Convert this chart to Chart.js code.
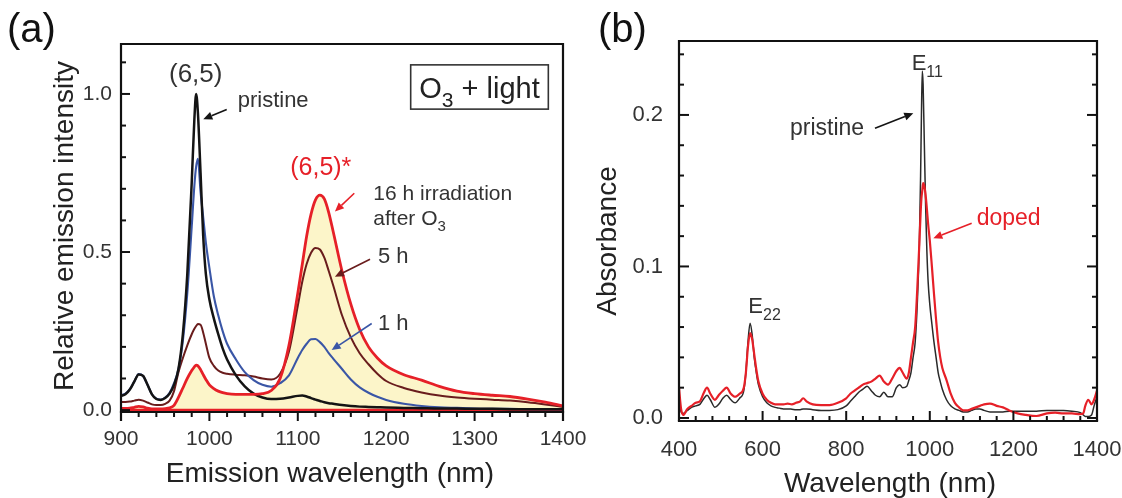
<!DOCTYPE html>
<html><head><meta charset="utf-8">
<script src="https://cdn.jsdelivr.net/npm/chart.js@4.4.1/dist/chart.umd.min.js"></script>
<style>
html,body{margin:0;padding:0;background:#fff;width:1122px;height:498px;overflow:hidden}
canvas{position:absolute;top:0;display:block}
#ca{left:0}
#cb{left:575px}
</style></head><body>
<canvas id="ca" width="600" height="498" style="width:600px;height:498px"></canvas>
<canvas id="cb" width="547" height="498" style="width:547px;height:498px"></canvas>
<script>
// ---------------- Panel (a): emission spectra ----------------
const wavelengthA = [900,905,910,915,920,925,930,935,940,945,950,955,960,965,970,975,980,983,985,987,990,993,996,1000,1005,1010,1015,1020,1030,1040,1050,1060,1070,1080,1090,1100,1105,1110,1115,1120,1125,1130,1135,1140,1150,1160,1170,1180,1190,1200,1220,1240,1260,1280,1300,1320,1340,1360,1380,1400];
const pristineA = [0.045,0.05,0.065,0.09,0.113,0.108,0.08,0.05,0.035,0.032,0.038,0.052,0.08,0.13,0.24,0.43,0.72,0.92,1.0,0.94,0.75,0.55,0.43,0.35,0.29,0.24,0.195,0.16,0.11,0.075,0.052,0.04,0.035,0.036,0.04,0.045,0.046,0.043,0.038,0.033,0.029,0.025,0.022,0.02,0.016,0.013,0.011,0.01,0.009,0.008,0.007,0.006,0.005,0.005,0.004,0.004,0.003,0.003,0.003,0.003];
const oneHourA = [0.047,0.052,0.066,0.09,0.114,0.108,0.08,0.05,0.036,0.033,0.04,0.055,0.085,0.13,0.22,0.37,0.58,0.71,0.77,0.795,0.69,0.61,0.53,0.45,0.36,0.3,0.25,0.21,0.16,0.12,0.095,0.08,0.074,0.085,0.11,0.165,0.19,0.21,0.224,0.225,0.215,0.2,0.18,0.163,0.13,0.097,0.072,0.055,0.042,0.032,0.02,0.013,0.009,0.007,0.005,0.004,0.004,0.003,0.003,0.003];
const fiveHourA = [0.026,0.026,0.027,0.03,0.033,0.03,0.024,0.018,0.016,0.016,0.02,0.03,0.06,0.12,0.165,0.205,0.24,0.257,0.266,0.272,0.27,0.245,0.21,0.165,0.14,0.125,0.118,0.115,0.112,0.11,0.106,0.1,0.097,0.115,0.185,0.33,0.405,0.462,0.498,0.513,0.508,0.482,0.44,0.395,0.3,0.23,0.18,0.145,0.115,0.092,0.07,0.056,0.046,0.04,0.036,0.033,0.03,0.025,0.018,0.01];
const sixteenHourA = [0.005,0.005,0.006,0.009,0.012,0.01,0.006,0.004,0.004,0.004,0.005,0.007,0.015,0.04,0.07,0.1,0.125,0.137,0.142,0.14,0.128,0.112,0.097,0.08,0.068,0.06,0.055,0.052,0.05,0.05,0.05,0.052,0.062,0.1,0.205,0.37,0.46,0.55,0.62,0.665,0.68,0.668,0.625,0.565,0.44,0.335,0.255,0.2,0.165,0.14,0.112,0.095,0.075,0.06,0.052,0.047,0.043,0.035,0.025,0.013];
const baselineXA = [900, 1400];
const baselineYA = [0, 0];
const xTicksA = [900, 1000, 1100, 1200, 1300, 1400];
const yTicksA = [0.0, 0.5, 1.0];

// ---------------- Panel (b): absorbance spectra ----------------
const wavelengthB = [400,405,410,420,430,440,450,460,467,475,486,495,505,514,524,534,545,555,560,565,570,575,580,585,590,600,610,620,630,640,650,660,670,680,690,697,705,720,740,760,780,800,810,820,830,840,850,860,870,880,890,900,910,920,928,935,945,950,955,960,965,970,975,978,980,982,984,987,990,993,996,1000,1005,1010,1015,1020,1025,1030,1040,1050,1060,1070,1080,1090,1100,1110,1120,1130,1144,1160,1175,1190,1210,1230,1255,1280,1300,1320,1340,1360,1367,1372,1379,1387,1393,1400];
const pristineB = [0.012,0.004,0.003,0.005,0.007,0.008,0.009,0.013,0.015,0.012,0.007,0.009,0.013,0.015,0.012,0.01,0.013,0.018,0.03,0.05,0.0625,0.055,0.04,0.03,0.022,0.014,0.01,0.008,0.007,0.0065,0.006,0.006,0.0058,0.0055,0.0055,0.006,0.006,0.0055,0.005,0.005,0.0055,0.008,0.011,0.014,0.017,0.019,0.021,0.018,0.015,0.014,0.017,0.014,0.014,0.02,0.022,0.02,0.021,0.025,0.03,0.04,0.05,0.075,0.115,0.16,0.2,0.229,0.22,0.18,0.14,0.11,0.09,0.075,0.062,0.05,0.04,0.03,0.024,0.019,0.012,0.008,0.006,0.005,0.004,0.004,0.005,0.006,0.006,0.005,0.004,0.004,0.004,0.0045,0.0045,0.0045,0.0045,0.005,0.005,0.005,0.0045,0.0035,0.002,0.001,0.001,0.002,0.008,0.014];
const dopedB = [0.02,0.006,0.002,0.006,0.008,0.01,0.011,0.017,0.02,0.016,0.012,0.015,0.018,0.02,0.016,0.014,0.016,0.02,0.03,0.047,0.056,0.052,0.042,0.032,0.024,0.016,0.012,0.01,0.009,0.009,0.009,0.0095,0.009,0.01,0.011,0.013,0.011,0.009,0.0085,0.0085,0.01,0.013,0.016,0.018,0.02,0.022,0.023,0.024,0.026,0.028,0.024,0.022,0.026,0.031,0.033,0.03,0.026,0.03,0.04,0.05,0.06,0.085,0.115,0.135,0.145,0.15,0.155,0.153,0.147,0.138,0.128,0.117,0.1,0.082,0.065,0.05,0.04,0.033,0.025,0.016,0.01,0.007,0.005,0.005,0.006,0.007,0.008,0.009,0.0095,0.008,0.007,0.005,0.003,0.002,0.0013,0.003,0.0035,0.003,0.003,0.0025,0.003,0.008,0.012,0.009,0.012,0.018];
const xTicksB = [400, 600, 800, 1000, 1200, 1400];
const yTicksB = [0.0, 0.1, 0.2];

// ---------------- styling ----------------
const FONT = '"Liberation Sans", Arial, Helvetica, sans-serif';
const TXT = '#333333';
const AXIS = '#111111';
const RED = 'rgb(230,32,40)';
const BLUE = 'rgb(58,86,166)';
const BROWN = 'rgb(105,28,28)';
const BLACK = '#141414';
const FILL = 'rgb(252,245,201)';

Chart.defaults.font.family = FONT;
Chart.defaults.animation = false;

function pts(xs, ys) { return xs.map((x, i) => ({ x: x, y: ys[i] })); }
function lineDS(label, xs, ys, color, width, order, extra) {
  return Object.assign({
    label: label, data: pts(xs, ys), borderColor: color, backgroundColor: color,
    borderWidth: width, pointRadius: 0, cubicInterpolationMode: 'monotone',
    fill: false, order: order
  }, extra || {});
}
function range(a, b, s) { const r = []; for (let v = a; v <= b + s * 1e-6; v += s) r.push(+v.toFixed(6)); return r; }

// annotations (data coordinates)
const notesA = [
  { kind: 'text', parts: [{ t: '(6,5)' }], x: 984.5, y: 1.038, align: 'center', size: 26, color: TXT },
  { kind: 'text', parts: [{ t: 'pristine' }], x: 1032, y: 0.959, size: 22, color: TXT },
  { kind: 'arrow', from: [1019.6, 0.951], to: [993.1, 0.920], color: BLACK },
  { kind: 'box', x0: 1227.7, x1: 1383.4, y0: 0.952, y1: 1.092 },
  { kind: 'text', parts: [{ t: 'O' }, { t: '3', sub: true }, { t: ' + light' }], x: 1305.5, y: 0.987, align: 'center', size: 29, color: '#222' },
  { kind: 'text', parts: [{ t: '(6,5)*' }], x: 1126, y: 0.744, align: 'center', size: 25, color: RED },
  { kind: 'text', parts: [{ t: '16 h irradiation' }], x: 1185.4, y: 0.665, size: 21, color: TXT },
  { kind: 'text', parts: [{ t: 'after O' }, { t: '3', sub: true }], x: 1185.4, y: 0.585, size: 21, color: TXT },
  { kind: 'arrow', from: [1163.9, 0.686], to: [1142, 0.628], color: RED },
  { kind: 'text', parts: [{ t: '5 h' }], x: 1190.7, y: 0.465, size: 22, color: TXT },
  { kind: 'arrow', from: [1181.7, 0.477], to: [1142, 0.422], color: BROWN },
  { kind: 'text', parts: [{ t: '1 h' }], x: 1190.7, y: 0.253, size: 22, color: TXT },
  { kind: 'arrow', from: [1183.6, 0.274], to: [1138.3, 0.19], color: BLUE }
];
const notesB = [
  { kind: 'text', parts: [{ t: 'E' }, { t: '11', sub: true }], x: 956.7, y: 0.2297, size: 22, color: TXT },
  { kind: 'text', parts: [{ t: 'pristine' }], x: 665.6, y: 0.1868, size: 23, color: TXT },
  { kind: 'arrow', from: [868.9, 0.1912], to: [960.5, 0.2011], color: BLACK },
  { kind: 'text', parts: [{ t: 'doped' }], x: 1112.2, y: 0.1274, size: 23, color: RED },
  { kind: 'arrow', from: [1100.2, 0.1285], to: [1008.4, 0.1186], color: RED },
  { kind: 'text', parts: [{ t: 'E' }, { t: '22', sub: true }], x: 565.8, y: 0.0693, size: 22, color: TXT }
];

function drawRich(ctx, parts, x, y, size, color, align) {
  let w = 0;
  parts.forEach(p => { ctx.font = (p.sub ? Math.round(size * 0.72) : size) + 'px ' + FONT; w += ctx.measureText(p.t).width; });
  let cx = align === 'center' ? x - w / 2 : (align === 'right' ? x - w : x);
  ctx.textAlign = 'left'; ctx.textBaseline = 'alphabetic'; ctx.fillStyle = color;
  parts.forEach(p => {
    const s = p.sub ? Math.round(size * 0.72) : size;
    ctx.font = s + 'px ' + FONT;
    ctx.fillText(p.t, cx, y + (p.sub ? size * 0.3 : 0));
    cx += ctx.measureText(p.t).width;
  });
}
function drawArrow(ctx, x0, y0, x1, y1, color) {
  const ang = Math.atan2(y1 - y0, x1 - x0), hl = 9, hw = 4;
  const bx = x1 - hl * Math.cos(ang), by = y1 - hl * Math.sin(ang);
  ctx.strokeStyle = color; ctx.fillStyle = color; ctx.lineWidth = 1.6;
  ctx.beginPath(); ctx.moveTo(x0, y0); ctx.lineTo(bx, by); ctx.stroke();
  ctx.beginPath(); ctx.moveTo(x1, y1);
  ctx.lineTo(bx + hw * Math.sin(ang), by - hw * Math.cos(ang));
  ctx.lineTo(bx - hw * Math.sin(ang), by + hw * Math.cos(ang));
  ctx.closePath(); ctx.fill();
}

function panelPlugin(cfg) {
  return {
    id: 'panel_' + cfg.name,
    afterDraw(chart) {
      const ctx = chart.ctx, a = chart.chartArea, xs = chart.scales.x, ys = chart.scales.y;
      ctx.save();
      // tick marks
      ctx.strokeStyle = AXIS; ctx.lineWidth = 2; ctx.lineCap = 'butt';
      const seg = (x0, y0, x1, y1) => { ctx.beginPath(); ctx.moveTo(x0, y0); ctx.lineTo(x1, y1); ctx.stroke(); };
      cfg.xMajor.forEach(v => { const p = xs.getPixelForValue(v); cfg.bottomDir > 0 ? seg(p, a.bottom, p, a.bottom + cfg.majLen) : seg(p, a.bottom, p, a.bottom - cfg.majLen); });
      cfg.xMinor.forEach(v => { const p = xs.getPixelForValue(v); cfg.bottomDir > 0 ? seg(p, a.bottom, p, a.bottom + cfg.minLen) : seg(p, a.bottom, p, a.bottom - cfg.minLen); });
      cfg.yMajor.forEach(v => { const p = ys.getPixelForValue(v); seg(a.left, p, a.left + cfg.majLen, p); if (cfg.rightTicks) seg(a.right, p, a.right - cfg.majLen, p); });
      cfg.yMinor.forEach(v => { const p = ys.getPixelForValue(v); seg(a.left, p, a.left + cfg.minLen, p); if (cfg.rightTicks) seg(a.right, p, a.right - cfg.minLen, p); });
      // frame
      ctx.lineWidth = 2.2;
      const ext = cfg.bottomDir > 0 ? cfg.majLen : 0;
      seg(a.left, a.top, a.right, a.top);
      seg(a.left, a.top - 1.1, a.left, a.bottom + ext);
      seg(a.right, a.top - 1.1, a.right, a.bottom + ext);
      seg(a.left - 1.1, a.bottom, a.right + 1.1, a.bottom);
      // annotations
      cfg.notes.forEach(n => {
        if (n.kind === 'text') {
          drawRich(ctx, n.parts, xs.getPixelForValue(n.x), ys.getPixelForValue(n.y), n.size, n.color || TXT, n.align || 'left');
        } else if (n.kind === 'arrow') {
          drawArrow(ctx, xs.getPixelForValue(n.from[0]), ys.getPixelForValue(n.from[1]), xs.getPixelForValue(n.to[0]), ys.getPixelForValue(n.to[1]), n.color);
        } else if (n.kind === 'box') {
          const x0 = xs.getPixelForValue(n.x0), x1 = xs.getPixelForValue(n.x1), y0 = ys.getPixelForValue(n.y0), y1 = ys.getPixelForValue(n.y1);
          ctx.fillStyle = '#fff'; ctx.fillRect(x0, y1, x1 - x0, y0 - y1);
          ctx.strokeStyle = '#333'; ctx.lineWidth = 1.6; ctx.strokeRect(x0, y1, x1 - x0, y0 - y1);
        }
      });
      // axis titles & panel label
      ctx.fillStyle = '#222'; ctx.textBaseline = 'alphabetic';
      ctx.font = cfg.titleSize + 'px ' + FONT;
      ctx.textAlign = 'center';
      ctx.fillText(cfg.xTitle, cfg.xTitlePos[0], cfg.xTitlePos[1]);
      ctx.save(); ctx.translate(cfg.yTitlePos[0], cfg.yTitlePos[1]); ctx.rotate(-Math.PI / 2);
      ctx.fillText(cfg.yTitle, 0, 0); ctx.restore();
      ctx.font = '40px ' + FONT; ctx.textAlign = 'left'; ctx.fillStyle = '#111';
      ctx.fillText(cfg.label, cfg.labelPos[0], cfg.labelPos[1]);
      ctx.restore();
    }
  };
}

function scalesFor(o) {
  return {
    x: {
      type: 'linear', min: o.xmin, max: o.xmax,
      grid: { display: false, drawTicks: false }, border: { display: false },
      ticks: { font: { size: o.fs }, color: TXT, padding: o.xpad, maxRotation: 0, autoSkip: false, includeBounds: false, callback: v => String(v) },
      afterBuildTicks: s => { s.ticks = o.xticks.map(v => ({ value: v })); },
      afterFit: s => { s.height = o.xh; s.paddingLeft = 0; s.paddingRight = 0; }
    },
    y: {
      type: 'linear', min: o.ymin, max: o.ymax,
      grid: { display: false, drawTicks: false }, border: { display: false },
      ticks: { font: { size: o.fs }, color: TXT, padding: o.ypad, autoSkip: false, includeBounds: false, callback: v => v.toFixed(1) },
      afterBuildTicks: s => { s.ticks = o.yticks.map(v => ({ value: v })); },
      afterFit: s => { s.width = o.yw; s.paddingTop = 0; s.paddingBottom = 0; }
    }
  };
}

// chart (a)
new Chart(document.getElementById('ca'), {
  type: 'line',
  data: {
    datasets: [
      lineDS('16 h irradiation after O3', wavelengthA, sixteenHourA, RED, 2.8, 0, { fill: 'origin', backgroundColor: FILL }),
      lineDS('pristine', wavelengthA, pristineA, BLACK, 2.5, 1),
      lineDS('1 h', wavelengthA, oneHourA, BLUE, 2.1, 2),
      lineDS('5 h', wavelengthA, fiveHourA, BROWN, 2.0, 3),
      lineDS('baseline', baselineXA, baselineYA, RED, 2.6, 4, { cubicInterpolationMode: 'default', tension: 0 })
    ]
  },
  options: {
    responsive: false, devicePixelRatio: 1, animation: false,
    layout: { padding: { top: 44, right: 37, left: 0, bottom: 0 } },
    plugins: { legend: { display: false }, tooltip: { enabled: false }, filler: { propagate: false, drawTime: 'beforeDatasetsDraw' } },
    scales: scalesFor({ xmin: 900, xmax: 1400, ymin: -0.006, ymax: 1.158, xticks: xTicksA, yticks: yTicksA, fs: 21, xpad: 15, ypad: 9, xh: 86, yw: 121 })
  },
  plugins: [panelPlugin({
    name: 'a', notes: notesA, bottomDir: 1, majLen: 9, minLen: 5, rightTicks: false,
    xMajor: xTicksA, xMinor: range(900, 1400, 20).filter(v => v % 100 !== 0),
    yMajor: yTicksA, yMinor: range(0.1, 1.1, 0.1).filter(v => Math.abs(v - 0.5) > 1e-6 && Math.abs(v - 1.0) > 1e-6),
    titleSize: 28, xTitle: 'Emission wavelength (nm)', xTitlePos: [330, 482],
    yTitle: 'Relative emission intensity', yTitlePos: [73, 226],
    label: '(a)', labelPos: [7, 42]
  })]
});

// chart (b)
new Chart(document.getElementById('cb'), {
  type: 'line',
  data: {
    datasets: [
      lineDS('doped', wavelengthB, dopedB, RED, 2.2, 0),
      lineDS('pristine', wavelengthB, pristineB, '#2a2a2a', 1.5, 1)
    ]
  },
  options: {
    responsive: false, devicePixelRatio: 1, animation: false,
    layout: { padding: { top: 41, right: 25, left: 0, bottom: 0 } },
    plugins: { legend: { display: false }, tooltip: { enabled: false } },
    scales: scalesFor({ xmin: 400, xmax: 1400, ymin: -0.002, ymax: 0.2488, xticks: xTicksB, yticks: yTicksB, fs: 22, xpad: 16, ypad: 16, xh: 77, yw: 104 })
  },
  plugins: [panelPlugin({
    name: 'b', notes: notesB, bottomDir: -1, majLen: 10, minLen: 5, rightTicks: true,
    xMajor: xTicksB, xMinor: range(440, 1360, 40).filter(v => v % 200 !== 0),
    yMajor: yTicksB, yMinor: range(0.02, 0.24, 0.02).filter(v => Math.abs(v - 0.1) > 1e-6 && Math.abs(v - 0.2) > 1e-6),
    titleSize: 28, xTitle: 'Wavelength (nm)', xTitlePos: [890 - 575, 492],
    yTitle: 'Absorbance', yTitlePos: [616 - 575, 241],
    label: '(b)', labelPos: [598 - 575, 42]
  })]
});
</script>
</body></html>
